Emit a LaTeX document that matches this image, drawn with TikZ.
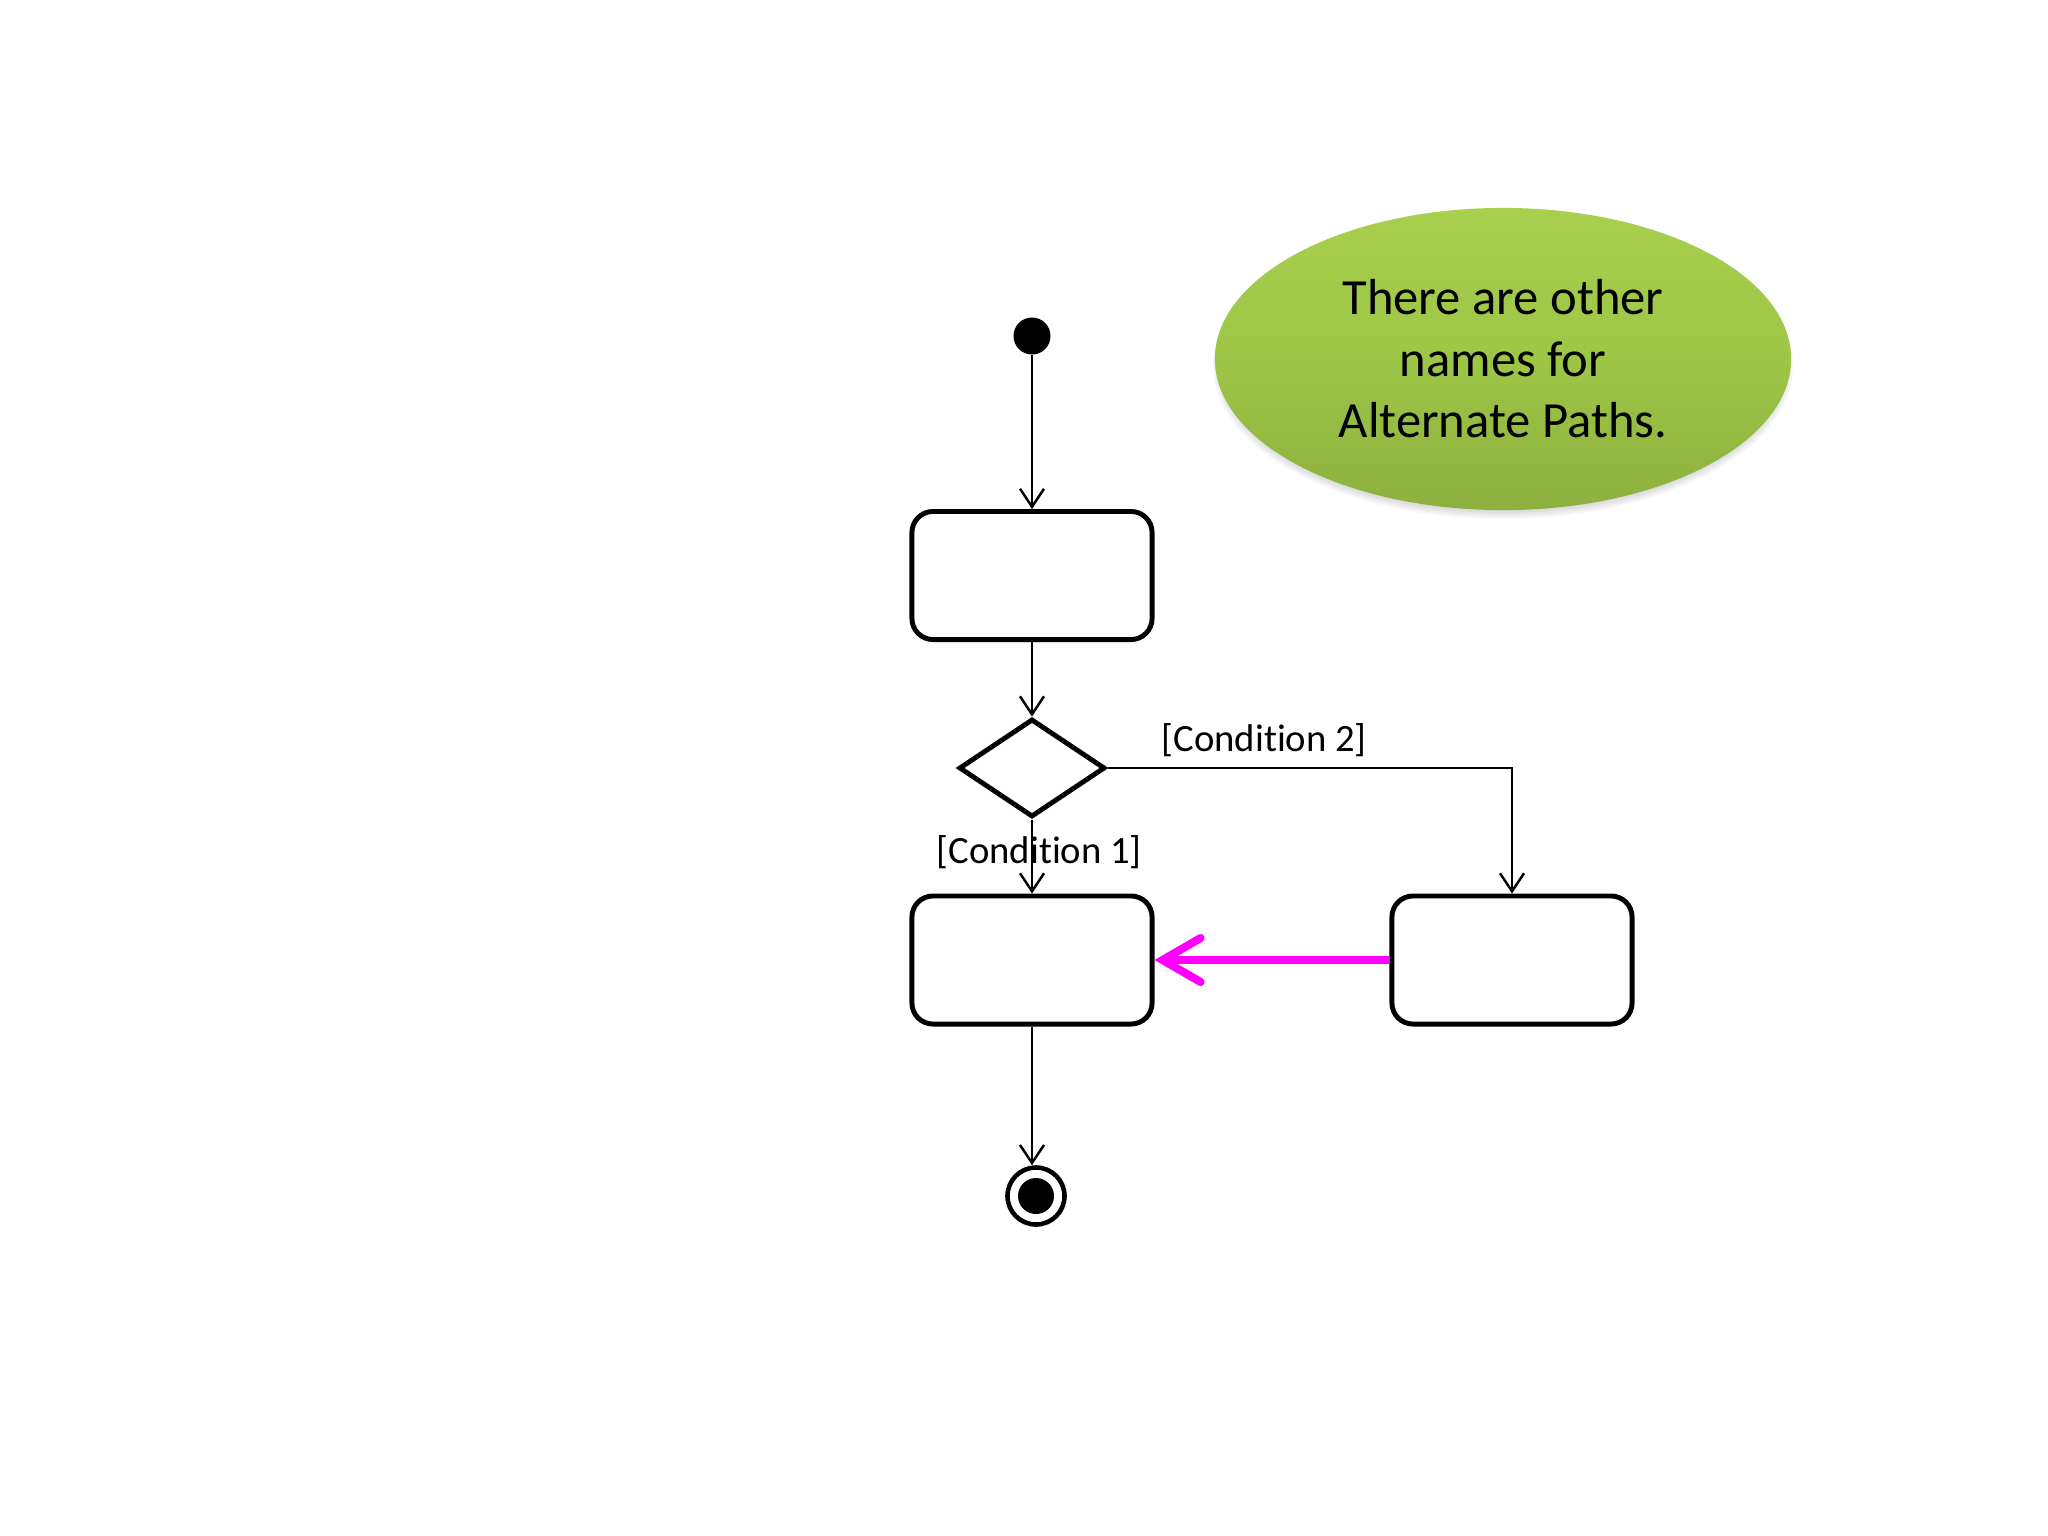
\documentclass[tikz,border=0pt]{standalone}
\usepackage{fontspec}
\setmainfont{Carlito}[Ligatures={NoCommon,NoRare}]
\usetikzlibrary{arrows.meta,shapes.geometric}
\definecolor{gtop}{HTML}{A8CF4D}
\definecolor{gmid}{HTML}{9DC647}
\definecolor{gbot}{HTML}{8DB03E}
\definecolor{magentaarrow}{HTML}{FF00FF}
\tikzset{
  actbox/.style={draw=black, line width=1.4pt, rounded corners=0.21cm, fill=white,
    minimum width=2.4cm, minimum height=1.28cm, inner sep=0pt},
  decision/.style={draw=black, line width=1.4pt, diamond, fill=white,
    minimum width=1.46cm, minimum height=0.98cm, inner sep=0pt, aspect=1.49},
  flow/.style={draw=black, line width=0.7pt,
    -{Straight Barb[length=1.8mm,width=2.4mm,line width=0.7pt]}},
  condlabel/.style={font=\fontsize{11}{13}\selectfont, inner sep=0pt, anchor=base west},
  note/.style={ellipse, minimum width=5.76cm, minimum height=3.02cm, inner sep=0pt,
    top color=gtop, bottom color=gbot, middle color=gmid,
    align=center, font=\fontsize{14.4}{17.5}\selectfont},
  softshadow/.style={fill=black, fill opacity=0.03, draw=none},
  altflow/.style={draw=magentaarrow, line width=2.3pt,
    -{Straight Barb[length=3.8mm,width=4.4mm,line width=2.3pt,line cap=round]}}
}
\begin{document}
\begin{tikzpicture}[x=0.01cm,y=-0.01cm]
\useasboundingbox[fill=white] (0,0) rectangle (2048,1536);
% soft shadow of the note
\coordinate (shc) at (1503,366);
\foreach \i in {0,...,9} {
  \fill[softshadow] (shc) ellipse[x radius={(290-2*\i)*0.01cm}, y radius={(153-2*\i)*0.01cm}];
}
% note ellipse
\node[note] (note) at (1503,359) {There are other\\names for\\Alternate Paths.};
% start
\node[circle, fill=black, minimum size=0.37cm, inner sep=0pt] (start) at (1032,336) {};
% actions
\node[actbox] (act1) at (1032,575.5) {};
\node[decision] (dec) at (1032,768) {};
\node[actbox] (act2) at (1032,960) {};
\node[actbox] (act3) at (1512,960) {};
% final node
\node[circle, draw=black, line width=1.3pt, minimum size=0.57cm, inner sep=0pt, fill=white] (final) at (1036,1196) {};
\node[circle, fill=black, minimum size=0.36cm, inner sep=0pt] (finalin) at (final.center) {};
% labels
\node[condlabel] (c2) at (1161,751) {[Condition 2]};
\node[condlabel] (c1) at (936,863) {[Condition 1]};
% flows
\draw[flow] (start) -- (act1.north);
\draw[flow] (act1.south) -- (dec.north);
\draw[flow] (dec.south) -- (act2.north);
\draw[flow] (dec.east) -| (act3.north);
\draw[flow] (act2.south) -- (act2.south |- final.north);
\draw[altflow] (act3.west) -- (act2.east);
\end{tikzpicture}
\end{document}
